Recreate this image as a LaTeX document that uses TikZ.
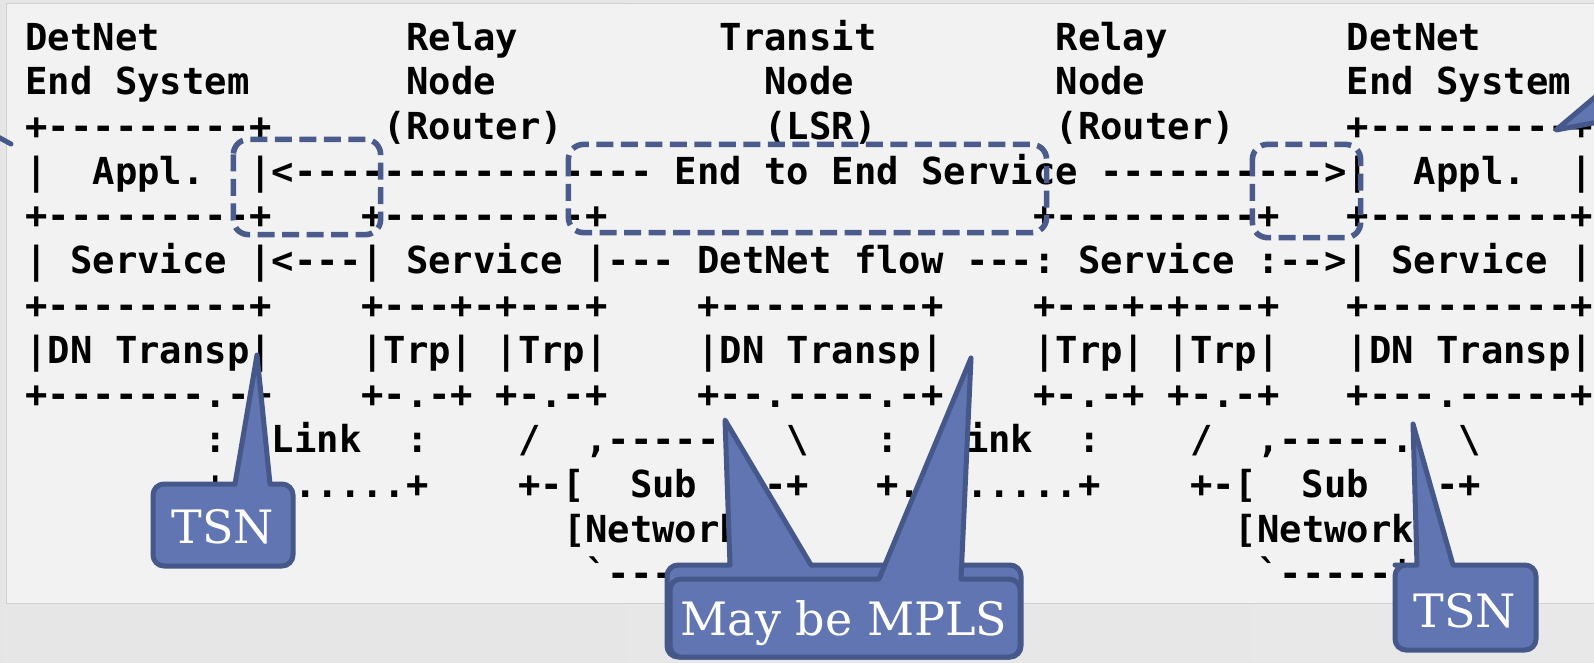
\documentclass[tikz,border=0pt]{standalone}
\usepackage{fontspec}
\setmonofont{DejaVu Sans Mono}
\newfontfamily\slabfont{DejaVu Serif}
\definecolor{panelbg}{HTML}{F2F2F2}
\definecolor{panelrule}{HTML}{D0D0D0}
\definecolor{hiline}{HTML}{4A5B8C}
\definecolor{callfill}{HTML}{6075B2}
\definecolor{callline}{HTML}{465889}
\newcommand\gap[1]{\hspace*{#1\fontcharwd\font`\ }}

\begin{document}
\begin{tikzpicture}[x=1pt,y=-1pt,
  ascii/.style={anchor=base west,inner sep=0pt,
    font=\fontsize{37.2}{44.7}\selectfont\ttfamily\bfseries},
  hilite/.style={draw=hiline,line width=5.6pt,
    dash pattern=on 17pt off 7.5pt,rounded corners=15pt},
  callout/.style={fill=callfill,draw=callline,line width=5pt,line join=round},
  calltext/.style={anchor=base,inner sep=0pt,text=white,
    font=\fontsize{46}{54}\selectfont\slabfont}]
    \useasboundingbox (0,0) rectangle (1594,662);
    \clip (0,0) rectangle (1594,662);
    \fill[left color=black!10,middle color=black!4,right color=black!9] (0,0) rectangle (1594,662);
    \draw[fill=panelbg,draw=panelrule,line width=1pt] (6.5,3) rectangle (1650,603);
    %
    \node[ascii] (row0) at (25.3,50) {DetNet\gap{11}Relay\gap{9}Transit\gap{8}Relay\gap{8}DetNet};
    \node[ascii] (row1) at (25.3,94.73) {End\gap1System\gap7Node\gap{12}Node\gap9Node\gap9End\gap1System};
    \node[ascii] (row2) at (25.3,139.46) {+---------+\gap5(Router)\gap9(LSR)\gap8(Router)\gap5+---------+};
    \node[ascii] (row3) at (25.3,184.19) {|\gap2Appl.\gap2|<----------------\gap1End\gap1to\gap1End\gap1Service\gap1---------->|\gap2Appl.\gap2|};
    \node[ascii] (row4) at (25.3,228.92) {+---------+\gap4+---------+\gap{19}+---------+\gap3+---------+};
    \node[ascii] (row5) at (25.3,273.65) {|\gap1Service\gap1|<---|\gap1Service\gap1|---\gap1DetNet\gap1flow\gap1---:\gap1Service\gap1:-->|\gap1Service\gap1|};
    \node[ascii] (row6) at (25.3,318.38) {+---------+\gap4+---+-+---+\gap4+---------+\gap4+---+-+---+\gap3+---------+};
    \node[ascii] (row7) at (25.3,363.11) {|DN\gap1Transp|\gap4|Trp|\gap1|Trp|\gap4|DN\gap1Transp|\gap4|Trp|\gap1|Trp|\gap3|DN\gap1Transp|};
    \node[ascii] (row8) at (25.3,407.84) {+-------.-+\gap4+-.-+\gap1+-.-+\gap4+--.----.-+\gap4+-.-+\gap1+-.-+\gap3+---.-----+};
    \node[ascii] (row9) at (25.3,452.57) {\gap8:\gap2Link\gap2:\gap4/\gap2,-----.\gap2\textbackslash\gap3:\gap2Link\gap2:\gap4/\gap2,-----.\gap2\textbackslash};
    \node[ascii] (row10) at (25.3,497.3) {\gap8+........+\gap4+-[\gap2Sub\gap2]-+\gap3+........+\gap4+-[\gap2Sub\gap2]-+};
    \node[ascii] (row11) at (25.3,542.03) {\gap{24}[Network]\gap{21}[Network]};
    \node[ascii] (row12) at (25.3,586.76) {\gap{25}`-----'\gap{23}`-----'};
    %
    \draw[hilite] (233.4,139.4) rectangle (380.6,234.6);
    \draw[hilite] (568.4,144.4) rectangle (1046.6,232.6);
    \draw[hilite] (1252.4,144.4) rectangle (1360.6,237.6);
    %
    \draw[callout] (257,355) -- (270,484) -- (281.5,484) [rounded corners=11pt] -- (293,484) -- (293,566) -- (153,566) -- (153,484) -- (194,484) [sharp corners] -- (235,484) -- cycle;
    \node[calltext] (tsnleft) at (223,543) {TSN};
    \draw[callout] (725,420) -- (811,565) -- (916,565) [rounded corners=11pt] -- (1021,565) -- (1021,657) -- (667,657) -- (667,565) -- (698,565) [sharp corners] -- (730,565) -- cycle;
    \draw[callout] (971,358) -- (961,579) -- (990,579) [rounded corners=11pt] -- (1020,579) -- (1020,657) -- (670,657) -- (670,579) -- (775,579) [sharp corners] -- (879,579) -- cycle;
    \node[calltext] (mpls) at (844,635) {May be MPLS};
    \draw[callout] (1413,424) -- (1453,565) -- (1495,565) [rounded corners=11pt] -- (1536,565) -- (1536,650) -- (1395,650) -- (1395,565) -- (1406,565) [sharp corners] -- (1417,565) -- cycle;
    \node[calltext] (tsnright) at (1465,627) {TSN};
    \draw[callout] (1556,130) -- (1620,76) -- (1620,118) -- cycle;
    \draw[callline,line width=5pt,line cap=round] (-10,132.6) -- (11,144);
\end{tikzpicture}
\end{document}
